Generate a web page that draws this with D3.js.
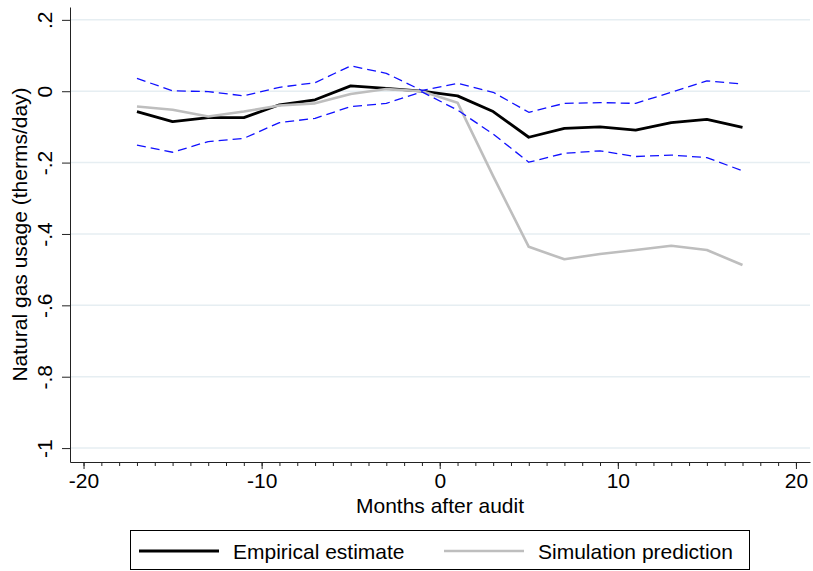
<!DOCTYPE html>
<html>
<head>
<meta charset="utf-8">
<script src="https://cdn.jsdelivr.net/npm/d3@7"></script>
<style>
  html, body { margin: 0; padding: 0; background: #fff; }
  svg { display: block; font-family: "Liberation Sans", Arial, Helvetica, sans-serif; }
</style>
</head>
<body>
<svg id="chart" width="813" height="571"></svg>
<script>
// ---- data ----
const months = [-17, -15, -13, -11, -9, -7, -5, -3, -1, 1, 3, 5, 7, 9, 11, 13, 15, 17];
const empirical = [-0.057, -0.085, -0.074, -0.074, -0.038, -0.024, 0.015, 0.008, 0.000, -0.013, -0.057, -0.129, -0.104, -0.100, -0.109, -0.088, -0.079, -0.101];
const simulation = [-0.043, -0.052, -0.071, -0.057, -0.040, -0.034, -0.008, 0.006, 0.000, -0.032, -0.238, -0.436, -0.471, -0.456, -0.445, -0.433, -0.445, -0.487];
const ciUpper = [0.036, 0.001, -0.001, -0.013, 0.011, 0.024, 0.071, 0.050, 0.002, 0.022, -0.003, -0.059, -0.034, -0.032, -0.034, -0.003, 0.029, 0.020];
const ciLower = [-0.151, -0.171, -0.141, -0.132, -0.088, -0.076, -0.043, -0.034, -0.002, -0.053, -0.120, -0.199, -0.174, -0.167, -0.183, -0.179, -0.186, -0.223];
const xTicks = [-20, -10, 0, 10, 20];
const xTickLabels = ["-20", "-10", "0", "10", "20"];
const xMinorTicks = d3.range(-20, 21, 1);
const yTicks = [0.2, 0, -0.2, -0.4, -0.6, -0.8, -1];
const yTickLabels = [".2", "0", "-.2", "-.4", "-.6", "-.8", "-1"];
const xTitle = "Months after audit";
const yTitle = "Natural gas usage (therms/day)";
const legendLabels = ["Empirical estimate", "Simulation prediction"];

// ---- layout ----
const svg = d3.select("#chart");
const L = 70, R = 810, T = 7, B = 462;
const FS = 21;

const x = d3.scaleLinear().domain([-20.76, 20.79]).range([L, R]);
const y = d3.scaleLinear().domain([-1.039, 0.236]).range([B, T]);

// gridlines
svg.append("g").selectAll("line").data(yTicks).join("line")
  .attr("x1", L).attr("x2", R)
  .attr("y1", d => y(d)).attr("y2", d => y(d))
  .attr("stroke", "#e6eef2").attr("stroke-width", 1.5);

// x axis (minor)
const gxMinor = svg.append("g").attr("transform", `translate(0,${B})`)
  .call(d3.axisBottom(x).tickValues(xMinorTicks).tickSize(4).tickSizeOuter(0).tickFormat(""));
gxMinor.select(".domain").remove();
gxMinor.selectAll("line").attr("stroke", "#222");

// x axis (major)
const gx = svg.append("g").attr("transform", `translate(0,${B})`)
  .call(d3.axisBottom(x).tickValues(xTicks).tickSize(7).tickSizeOuter(0)
        .tickFormat((d, i) => xTickLabels[i]));
gx.select(".domain").attr("stroke", "#222");
gx.selectAll(".tick line").attr("stroke", "#222");
gx.selectAll(".tick text").attr("font-size", FS).attr("font-family", null)
  .attr("fill", "#000").attr("y", 11).attr("dy", "0.71em");

// y axis
const gy = svg.append("g").attr("transform", `translate(${L},0)`)
  .call(d3.axisLeft(y).tickValues(yTicks).tickSize(8).tickSizeOuter(0)
        .tickFormat((d, i) => yTickLabels[i]));
gy.select(".domain").attr("stroke", "#222");
gy.selectAll(".tick line").attr("stroke", "#222");
gy.selectAll(".tick text").attr("font-size", FS).attr("font-family", null)
  .attr("fill", "#000")
  .attr("x", null).attr("dy", null)
  .attr("text-anchor", "middle")
  .attr("transform", "translate(-18,0) rotate(-90)");

// titles
svg.append("text").attr("x", (L + R) / 2).attr("y", 513)
  .attr("text-anchor", "middle").attr("font-size", FS).text(xTitle);
svg.append("text").attr("transform", `translate(27,${(T + B) / 2}) rotate(-90)`)
  .attr("text-anchor", "middle").attr("font-size", FS).text(yTitle);

// lines
const line = d3.line().x((d, i) => x(months[i])).y(d => y(d));
const plot = svg.append("g").attr("fill", "none").attr("stroke-linejoin", "round");
plot.append("path").datum(empirical).attr("d", line)
  .attr("stroke", "#000").attr("stroke-width", 2.8);
plot.append("path").datum(simulation).attr("d", line)
  .attr("stroke", "#bebebe").attr("stroke-width", 2.6);
[ciUpper, ciLower].forEach(s => {
  plot.append("path").datum(s).attr("d", line)
    .attr("stroke", "#1010ff").attr("stroke-width", 1.3)
    .attr("stroke-dasharray", "9,5");
});

// legend
const lg = svg.append("g");
lg.append("rect").attr("x", 130.5).attr("y", 530.5).attr("width", 619).attr("height", 39)
  .attr("fill", "#fff").attr("stroke", "#000").attr("stroke-width", 1);
const legendItems = [
  { label: legendLabels[0], color: "#000", w: 2.8, x0: 139, tx: 233 },
  { label: legendLabels[1], color: "#bebebe", w: 2.6, x0: 444, tx: 538 }
];
legendItems.forEach(it => {
  lg.append("line").attr("x1", it.x0).attr("x2", it.x0 + 80)
    .attr("y1", 551).attr("y2", 551)
    .attr("stroke", it.color).attr("stroke-width", it.w);
  lg.append("text").attr("x", it.tx).attr("y", 558.5)
    .attr("font-size", FS).text(it.label);
});
</script>
</body>
</html>
